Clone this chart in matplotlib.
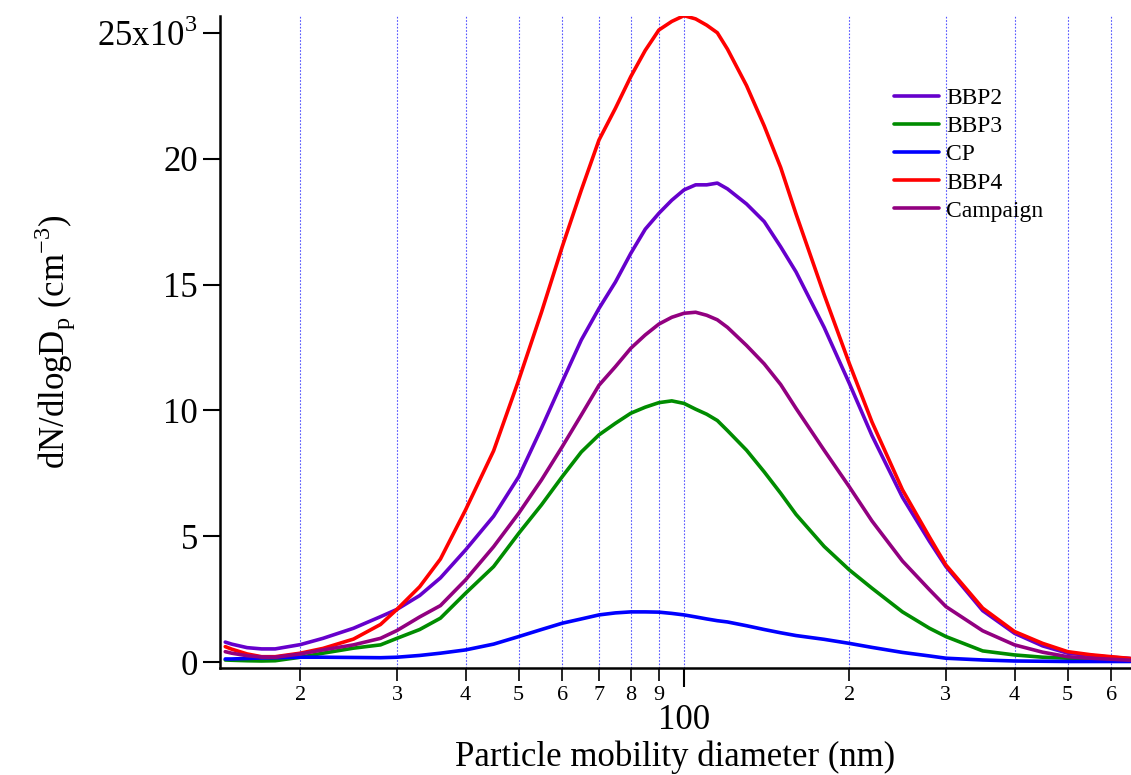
import numpy as np
import matplotlib.pyplot as plt
from matplotlib.ticker import FixedLocator, FuncFormatter

# particle mobility diameter (nm)
diam = [14.6, 15, 16, 17, 18, 20, 22, 25, 28, 30, 33, 36, 40, 45, 50, 55, 60, 65, 70, 75,
        80, 85, 90, 95, 100, 105, 110, 115, 120, 130, 140, 150, 160, 180, 200, 220, 250,
        280, 300, 350, 400, 450, 500, 550, 600, 650]

# dN/dlogDp in units of 1e3 cm^-3
bbp2 = [0.80, 0.72, 0.58, 0.53, 0.53, 0.70, 0.95, 1.35, 1.81, 2.10, 2.65, 3.35, 4.46, 5.80,
        7.37, 9.30, 11.14, 12.80, 14.05, 15.10, 16.24, 17.20, 17.83, 18.35, 18.76, 18.96,
        18.96, 19.03, 18.80, 18.20, 17.50, 16.50, 15.50, 13.30, 11.08, 9.00, 6.55, 4.80,
        3.80, 2.05, 1.15, 0.65, 0.36, 0.27, 0.20, 0.15]
bbp3 = [0.09, 0.08, 0.06, 0.05, 0.06, 0.20, 0.36, 0.56, 0.69, 0.95, 1.30, 1.75, 2.74, 3.80,
        5.12, 6.25, 7.37, 8.35, 9.03, 9.49, 9.89, 10.13, 10.31, 10.38, 10.28, 10.05, 9.85,
        9.60, 9.20, 8.42, 7.56, 6.71, 5.87, 4.60, 3.67, 2.94, 2.00, 1.35, 1.02, 0.45, 0.29,
        0.20, 0.16, 0.13, 0.12, 0.10]
cp = [0.13, 0.13, 0.15, 0.17, 0.18, 0.20, 0.20, 0.19, 0.18, 0.20, 0.27, 0.36, 0.49, 0.72,
      1.02, 1.30, 1.55, 1.72, 1.88, 1.96, 2.00, 2.00, 1.99, 1.94, 1.88, 1.80, 1.72, 1.65,
      1.60, 1.45, 1.30, 1.17, 1.06, 0.91, 0.75, 0.59, 0.39, 0.25, 0.16, 0.09, 0.05, 0.04,
      0.03, 0.03, 0.03, 0.03]
bbp4 = [0.62, 0.52, 0.33, 0.22, 0.22, 0.36, 0.55, 0.92, 1.50, 2.10, 3.00, 4.10, 6.05, 8.40,
        11.21, 13.90, 16.50, 18.75, 20.74, 22.00, 23.26, 24.30, 25.11, 25.45, 25.68, 25.55,
        25.30, 25.00, 24.35, 22.90, 21.30, 19.65, 17.80, 14.60, 11.87, 9.54, 6.85, 4.97,
        3.86, 2.15, 1.22, 0.75, 0.42, 0.30, 0.22, 0.15]
campaign = [0.42, 0.36, 0.26, 0.21, 0.20, 0.33, 0.49, 0.69, 0.95, 1.26, 1.80, 2.25, 3.27,
            4.59, 5.92, 7.24, 8.56, 9.82, 11.00, 11.74, 12.47, 13.00, 13.43, 13.70, 13.86,
            13.90, 13.78, 13.60, 13.30, 12.58, 11.85, 11.03, 10.08, 8.42, 6.97, 5.61, 4.02,
            2.88, 2.21, 1.25, 0.69, 0.40, 0.22, 0.16, 0.12, 0.08]

series = [('BBP2', bbp2, '#6600CC'), ('BBP3', bbp3, '#008C00'), ('CP', cp, '#0000FF'),
          ('BBP4', bbp4, '#FF0000'), ('Campaign', campaign, '#920080')]

plt.rcParams['font.family'] = ['Liberation Serif', 'DejaVu Serif']
plt.rcParams['mathtext.fontset'] = 'custom'
plt.rcParams['mathtext.rm'] = 'Liberation Serif'

fig = plt.figure(figsize=(11.31, 7.75), dpi=100)
ax = fig.add_axes([0.1945, 0.1385, 0.8055, 0.841])

d = np.array(diam)
for name, vals, col in series:
    ax.plot(d, np.array(vals) * 1000, color=col, lw=2.6, label=name,
            solid_joinstyle='round', solid_capstyle='round')

ax.set_xscale('log')
ax.set_xlim(14.28, 652)
ax.set_ylim(-215, 25670)

major = [100]
minor = [20, 30, 40, 50, 60, 70, 80, 90, 200, 300, 400, 500, 600]
ax.xaxis.set_major_locator(FixedLocator(major))
ax.xaxis.set_minor_locator(FixedLocator(minor))
ax.xaxis.set_major_formatter(FuncFormatter(lambda v, p: '%d' % v))
ax.xaxis.set_minor_formatter(FuncFormatter(lambda v, p: str(int(round(v / 10 ** np.floor(np.log10(v) + 1e-9))))))

for x in major + minor:
    ax.axvline(x, color='#5555FF', lw=0.8, ls=(0, (1.5, 1.5)), zorder=0)

yt = [0, 5000, 10000, 15000, 20000, 25000]
ax.set_yticks(yt)
ax.yaxis.set_major_formatter(FuncFormatter(
    lambda v, p: r'25x10$^{\mathregular{3}}$' if v >= 25000 else '%d' % (v / 1000)))

ax.tick_params(axis='y', which='major', direction='out', length=12, width=1.5, labelsize=25, pad=4)
ax.tick_params(axis='x', which='major', direction='out', length=14, width=1.5, labelsize=25, pad=12)
ax.tick_params(axis='x', which='minor', direction='out', length=9, width=1.2, labelsize=16, pad=4)

for s in ['top', 'right']:
    ax.spines[s].set_visible(False)
for s in ['left', 'bottom']:
    ax.spines[s].set_linewidth(1.8)

ax.set_xlabel('Particle mobility diameter (nm)', fontsize=25, labelpad=3)
ax.set_ylabel(r'dN/dlogD$_{\mathregular{p}}$ (cm$^{\mathregular{-3}}$)', fontsize=25, labelpad=14)

ax.legend(loc='upper left', bbox_to_anchor=(0.74, 0.89), frameon=False, fontsize=17,
          handlelength=1.9, handletextpad=0.3, labelspacing=0.28, borderpad=0,
          borderaxespad=0)

fig.savefig('out.png', dpi=100)
